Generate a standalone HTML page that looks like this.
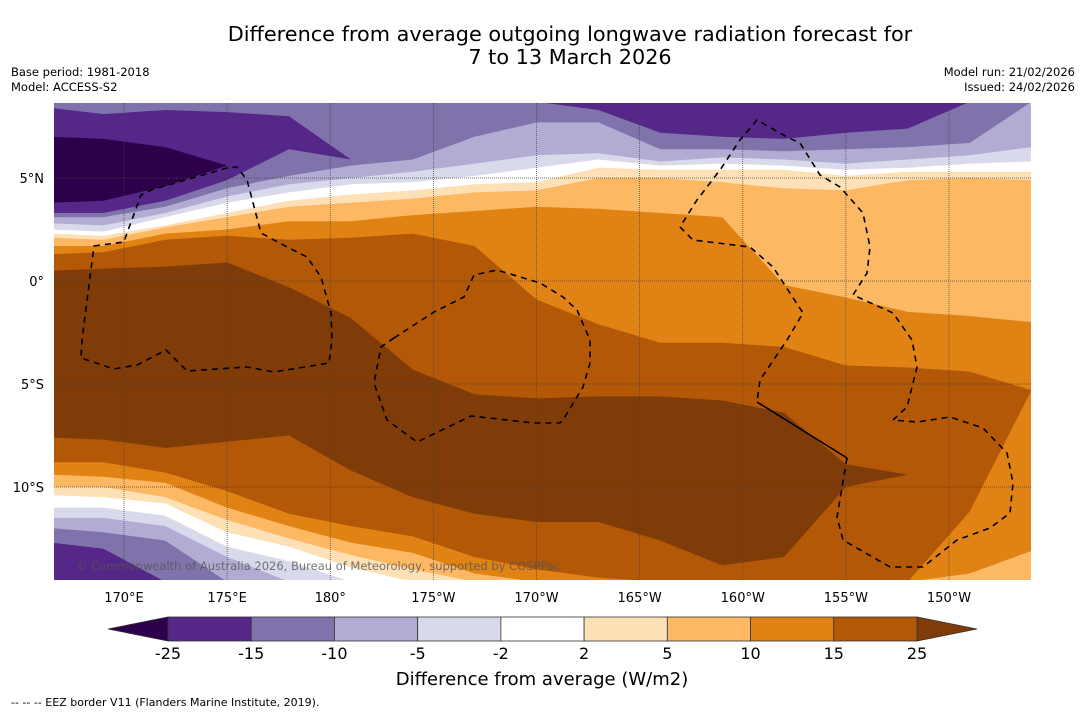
<!DOCTYPE html>
<html><head><meta charset="utf-8"><style>
body{margin:0;background:#fff;width:1085px;height:713px;overflow:hidden;font-family:"DejaVu Sans","Liberation Sans",sans-serif}
svg{position:absolute;left:0;top:0}
</style></head><body>
<svg id="chart" width="1085" height="713" viewBox="0 0 1085 713">
<defs><clipPath id="mapclip"><rect x="54" y="103" width="977" height="477"/></clipPath></defs>
<text x="570" y="41" font-size="20.8" text-anchor="middle" fill="#000">Difference from average outgoing longwave radiation forecast for</text>
<text x="570" y="64" font-size="20.8" text-anchor="middle" fill="#000">7 to 13 March 2026</text>
<text x="11" y="76" font-size="11.5">Base period: 1981-2018</text>
<text x="11" y="91" font-size="11.5">Model: ACCESS-S2</text>
<text x="1075" y="76" font-size="11.5" text-anchor="end">Model run: 21/02/2026</text>
<text x="1075" y="91" font-size="11.5" text-anchor="end">Issued: 24/02/2026</text>
<g id="map" clip-path="url(#mapclip)">
<rect x="54" y="103" width="977" height="477" fill="#8073ac"/>
<g id="bands"></g>
<g id="grid"></g>
<g fill="none" stroke="#000" stroke-width="1.6" stroke-dasharray="6,5">
<path d="M94,246 L124,242 L127,233 L141,195 L151,190 L227,168 L237,167 L247,180 L261,233 L287,247 L307,257 L321,277 L331,313 L332,340 L329,363 L274,372 L247,367 L187,371 L166,350 L137,365 L114,369 L81,358 L82,340 Z"/>
<path d="M394,338 L434,312 L464,297 L474,275 L497,270 L540,283 L563,297 L577,310 L590,340 L590,363 L583,387 L563,420 L560,423 L534,423 L471,416 L417,442 L387,420 L374,383 L381,347 Z"/>
<path d="M680,227 L693,240 L750,247 L773,267 L803,313 L787,340 L760,380 L757,402"/>
<path d="M847,458 L837,517 L843,540 L890,567 L923,567 L957,540 L990,528 L1010,513 L1013,483 L1007,453 L983,428 L950,417 L917,422 L893,420 L907,407 L917,367 L912,340 L893,313 L853,295 L867,273 L870,247 L863,213 L840,187 L820,175 L800,143 L787,137 L757,120 L740,140 L720,170 L697,200 L680,227"/>
</g>
<path d="M757,402 L847,458" stroke="#000" stroke-width="1.6" fill="none"/>
<text x="76" y="570" font-size="11.5" fill="#555" fill-opacity="0.8">© Commonwealth of Australia 2026, Bureau of Meteorology, supported by COSPPac</text>
</g>
<g id="axes"></g>
<g id="colorbar"></g>
<text x="542" y="685" font-size="18" text-anchor="middle">Difference from average (W/m2)</text>
<text x="11" y="706" font-size="11">--  --  -- EEZ border V11 (Flanders Marine Institute, 2019).</text>
</svg>
<script>
const lons=[166.5,169,172,175,178,181,184,187,190,193,196,199,202,205,208,211,214];
const purpleNTop=[8.4,8.1,8.3,8.2,8.0,5.9,8.7,8.7,8.7,8.7,8.7,8.7,8.7,8.7,8.7,8.7,8.7];
const purpleNBot=[3.3,3.3,3.9,4.9,6.4,5.9,8.7,8.7,8.7,8.3,7.2,7.0,6.9,7.2,7.4,8.7,8.7];
const darkTop=[7.0,6.9,6.5,5.6,5.6,5.6,5.6,5.6,5.6,5.6,5.6,5.6,5.6,5.6,5.6,5.6,5.6];
const darkBot=[3.8,3.9,4.6,5.6,5.6,5.6,5.6,5.6,5.6,5.6,5.6,5.6,5.6,5.6,5.6,5.6,5.6];
const lvlM10Top=[3.1,3.1,3.6,4.5,5.1,5.6,5.9,7.0,7.7,7.7,6.4,6.4,6.3,6.4,6.5,6.7,8.7];
const lvlM10Bot=[-12.0,-12.2,-12.6,-14.6,-14.6,-14.6,-14.6,-14.6,-14.6,-14.6,-14.6,-14.6,-14.6,-14.6,-14.6,-14.6,-14.6];
const lvlM5Top=[2.8,2.7,3.3,4.1,4.7,5.0,5.3,5.7,6.1,6.2,5.8,6.0,5.9,5.7,5.9,6.1,6.5];
const lvlM5Bot=[-11.5,-11.5,-11.9,-13.4,-14.6,-14.6,-14.6,-14.6,-14.6,-14.6,-14.6,-14.6,-14.6,-14.6,-14.6,-14.6,-14.6];
const lvlM2Top=[2.5,2.4,3.1,3.8,4.3,4.7,4.8,5.1,5.5,5.9,5.6,5.7,5.6,5.4,5.5,5.7,5.8];
const lvlM2Bot=[-11.0,-11.0,-11.4,-12.9,-13.6,-14.6,-14.6,-14.6,-14.6,-14.6,-14.6,-14.6,-14.6,-14.6,-14.6,-14.6,-14.6];
const lvl2Top=[2.3,2.2,2.7,3.3,3.9,4.2,4.4,4.7,4.8,5.5,5.4,5.4,5.4,5.1,5.3,5.3,5.3];
const lvl2Bot=[-10.4,-10.5,-10.8,-12.2,-12.9,-13.9,-14.6,-14.6,-14.6,-14.6,-14.6,-14.6,-14.6,-14.6,-14.6,-14.6,-14.6];
const lvl5Top=[2.1,2.0,2.6,3.1,3.6,3.8,4.0,4.3,4.4,5.0,5.0,4.8,4.5,4.4,4.9,5.0,4.9];
const lvl5Bot=[-10.0,-10.0,-10.5,-11.6,-12.5,-13.3,-14.0,-14.6,-14.6,-14.6,-14.6,-14.6,-14.6,-14.6,-14.6,-14.6,-14.6];
const lvl10Top=[1.7,1.7,2.3,2.5,2.9,2.9,3.2,3.4,3.6,3.5,3.3,3.1,-0.2,-0.8,-1.5,-1.7,-2.0];
const lvl10Bot=[-9.4,-9.5,-9.8,-11.0,-11.9,-12.7,-13.2,-14.2,-14.6,-14.6,-14.6,-14.6,-14.6,-14.6,-14.6,-14.2,-13.1];
const lvl15Top=[1.3,1.4,2.0,2.2,2.0,2.1,2.3,1.7,-0.9,-2.1,-3.0,-3.0,-3.2,-4.1,-4.2,-4.4,-5.3];
const lvl15Bot=[-8.8,-8.8,-9.3,-10.2,-11.3,-11.9,-12.4,-13.4,-14.0,-14.4,-14.6,-14.6,-14.6,-14.6,-14.6,-11.2,-5.3];
const lvl25Top=[0.5,0.6,0.7,0.9,-0.3,-1.8,-4.3,-5.5,-5.7,-5.6,-5.6,-5.8,-6.4,-8.9,-9.4,-9.2,-5.3];
const lvl25Bot=[-7.6,-7.7,-8.1,-7.8,-7.5,-9.2,-10.5,-11.3,-11.7,-11.7,-12.6,-13.8,-13.4,-10.0,-9.4,-9.2,-5.3];
const purpleSTop=[-12.7,-13.0,-14.6,-14.6,-14.6,-14.6,-14.6,-14.6,-14.6,-14.6,-14.6,-14.6,-14.6,-14.6,-14.6,-14.6,-14.6];
const purpleSBot=[-14.6,-14.6,-14.6,-14.6,-14.6,-14.6,-14.6,-14.6,-14.6,-14.6,-14.6,-14.6,-14.6,-14.6,-14.6,-14.6,-14.6];
const lonTicks=[170,175,180,185,190,195,200,205,210];
const lonTickLabels=["170°E","175°E","180°","175°W","170°W","165°W","160°W","155°W","150°W"];
const latTicks=[5,0,-5,-10];
const latTickLabels=["5°N","0°","5°S","10°S"];
const cbLevels=[-25,-15,-10,-5,-2,2,5,10,15,25];
const cbLabels=["-25","-15","-10","-5","-2","2","5","10","15","25"];
const cbColors=["#542788","#8073ac","#b2abd2","#d8daeb","#ffffff","#fee0b6","#fdb863","#e08214","#b35806"];

const NS="http://www.w3.org/2000/svg";
function xScale(lon){return 124+(lon-170)*20.625;}
function yScale(lat){return 281-lat*20.6;}
function mk(tag,attrs,parent){const e=document.createElementNS(NS,tag);for(const k in attrs)e.setAttribute(k,attrs[k]);parent.appendChild(e);return e;}

const bandsG=document.getElementById('bands');
const bandDefs=[
 ["purple-north-band",purpleNTop,purpleNBot,"#542788"],
 ["darkest-purple-band",darkTop,darkBot,"#2d004b"],
 ["level-minus10-region",lvlM10Top,lvlM10Bot,"#b2abd2"],
 ["level-minus5-region",lvlM5Top,lvlM5Bot,"#d8daeb"],
 ["level-minus2-region",lvlM2Top,lvlM2Bot,"#ffffff"],
 ["level-2-region",lvl2Top,lvl2Bot,"#fee0b6"],
 ["level-5-region",lvl5Top,lvl5Bot,"#fdb863"],
 ["level-10-region",lvl10Top,lvl10Bot,"#e08214"],
 ["level-15-region",lvl15Top,lvl15Bot,"#b35806"],
 ["level-25-region",lvl25Top,lvl25Bot,"#7f3b08"],
 ["purple-south-band",purpleSTop,purpleSBot,"#542788"]
];
bandDefs.forEach(b=>{
  const pts=[];
  for(let i=0;i<lons.length;i++)pts.push(xScale(lons[i]).toFixed(1)+","+yScale(b[1][i]).toFixed(1));
  for(let i=lons.length-1;i>=0;i--)pts.push(xScale(lons[i]).toFixed(1)+","+yScale(b[2][i]).toFixed(1));
  const p=mk('polygon',{points:pts.join(' '),fill:b[3]},bandsG);
  
  
});

const gridG=document.getElementById('grid');
const axesG=document.getElementById('axes');
lonTicks.forEach((lon,i)=>{
  const x=xScale(lon);
  const l=mk('line',{x1:x,y1:103,x2:x,y2:580,stroke:"#444","stroke-width":0.7,"stroke-dasharray":"1,1"},gridG);
  
  
  const t=mk('text',{x:x,y:602,"font-size":13,"text-anchor":"middle"},axesG);
  t.textContent=lonTickLabels[i];
  
  
});
latTicks.forEach((lat,i)=>{
  const y=yScale(lat);
  const l=mk('line',{x1:54,y1:y,x2:1031,y2:y,stroke:"#444","stroke-width":0.7,"stroke-dasharray":"1,1"},gridG);
  
  
  const t=mk('text',{x:44,y:y+5,"font-size":13,"text-anchor":"end"},axesG);
  t.textContent=latTickLabels[i];
  
  
});

const cbG=document.getElementById('colorbar');
const cbX0=168,cbX1=917,cbY=617,cbH=24;
function cbScale(i){return cbX0+(cbX1-cbX0)*i/(cbLevels.length-1);}
const lt=mk('polygon',{points:`108,${cbY+cbH/2} ${cbX0},${cbY} ${cbX0},${cbY+cbH}`,fill:"#2d004b",stroke:"#333","stroke-width":0.8},cbG);


const rt=mk('polygon',{points:`${cbX1},${cbY} ${cbX1},${cbY+cbH} 977,${cbY+cbH/2}`,fill:"#7f3b08",stroke:"#333","stroke-width":0.8},cbG);


cbColors.forEach((c,i)=>{
  const r=mk('rect',{x:cbScale(i),y:cbY,width:cbScale(i+1)-cbScale(i),height:cbH,fill:c,stroke:"#333","stroke-width":0.8},cbG);
  
  
});
cbLabels.forEach((s,i)=>{
  const t=mk('text',{x:cbScale(i),y:659,"font-size":16,"text-anchor":"middle"},cbG);
  t.textContent=s;
  
  
});
</script>
</body></html>
